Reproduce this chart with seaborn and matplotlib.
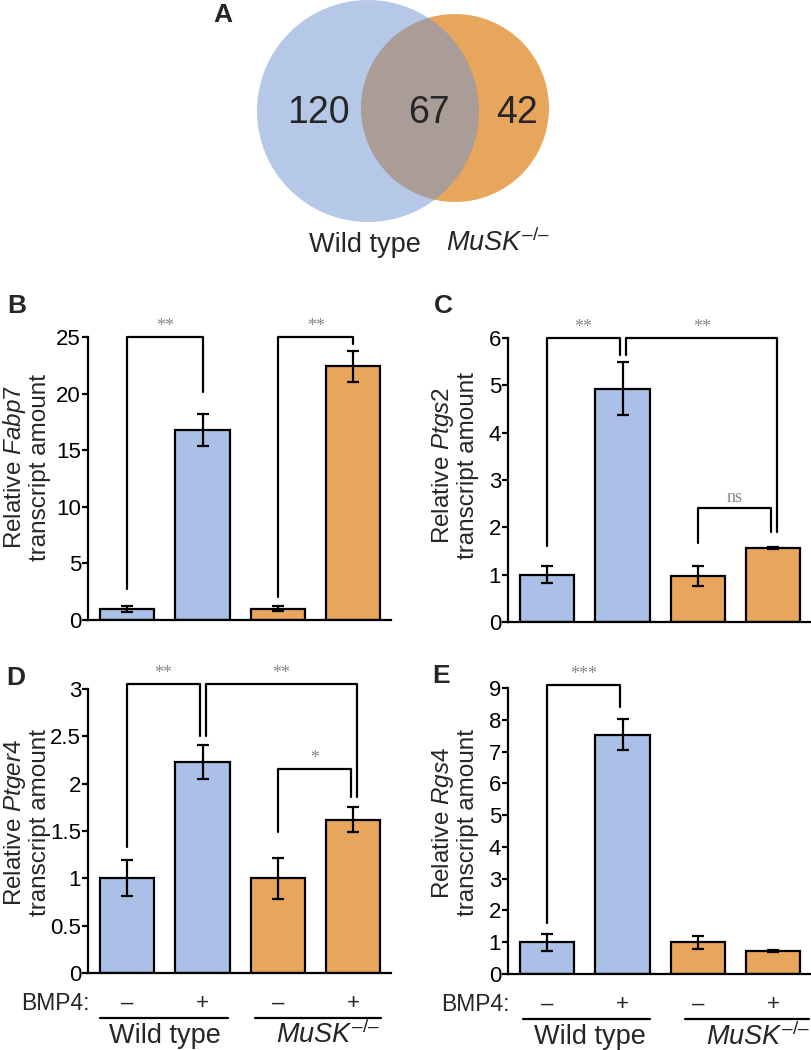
import numpy as np
import pandas as pd
import seaborn as sns
import matplotlib.pyplot as plt
from matplotlib.patches import Circle

# ---- data ----
venn_counts = [120, 67, 42]          # wild type only, shared, MuSK-/- only
conds = ["WT-", "WT+", "KO-", "KO+"]
genos = ["WT", "WT", "KO", "KO"]
bmp4 = ["\u2013", "+", "\u2013", "+"]

fabp7 = [1.0, 16.8, 1.0, 22.4]
fabp7_err = [0.25, 1.4, 0.2, 1.4]
ptgs2 = [1.0, 4.93, 0.98, 1.57]
ptgs2_err = [0.18, 0.56, 0.21, 0.02]
ptger4 = [1.0, 2.23, 1.0, 1.62]
ptger4_err = [0.19, 0.18, 0.22, 0.13]
rgs4 = [1.0, 7.53, 1.0, 0.72]
rgs4_err = [0.27, 0.48, 0.21, 0.02]

# brackets: x1, x2, top, left leg end, right leg end, label
fabp7_sig = [(0, 1, 25, 2.7, 20.1, "**"), (2, 3, 25, 2.0, 24.4, "**")]
ptgs2_sig = [(0, 0.96, 6, 1.6, 5.65, "**"), (1.05, 3.05, 6, 5.65, 1.9, "**"),
             (2, 2.97, 2.4, 1.67, 1.9, "ns")]
ptger4_sig = [(0, 0.96, 3.05, 1.33, 2.5, "**"), (1.04, 3.05, 3.05, 2.5, 1.86, "**"),
              (2, 2.97, 2.15, 1.49, 1.86, "*")]
rgs4_sig = [(0, 0.97, 9.1, 1.6, 8.4, "***")]

blue = "#aac0e6"
orange = "#e8a65d"
pal = {"WT": blue, "KO": orange}

sns.set_style("white")
plt.rcParams["font.family"] = ["Liberation Sans", "DejaVu Sans"]
plt.rcParams["mathtext.fontset"] = "custom"
plt.rcParams["mathtext.rm"] = "Liberation Sans"
plt.rcParams["mathtext.it"] = "Liberation Sans:italic"

fig = plt.figure(figsize=(8.12, 10.5), dpi=100)
W, H = 812, 1050

MUSK = "$\\mathit{MuSK}^{\\mathit{\u2013/\u2013}}$"

# ---- panel A: venn ----
ax_v = fig.add_axes([0, 1 - 300 / H, 1, 300 / H])
ax_v.set_xlim(0, W)
ax_v.set_ylim(300, 0)
ax_v.axis("off")
ax_v.add_patch(Circle((455, 108), 94, color="#e8a65c", lw=0))
ax_v.add_patch(Circle((368, 111), 111, color="#6d93d3", alpha=0.5, lw=0))
for xpos, n in zip([318, 429, 517], venn_counts):
    ax_v.text(xpos, 113, str(n), fontsize=27, ha="center", va="center")
ax_v.text(365, 245, "Wild type", fontsize=19.5, ha="center", va="center")
ax_v.text(498, 243, MUSK, fontsize=19.5, ha="center", va="center")
fig.text(223 / W, 1 - 15 / H, "A", fontsize=19, weight="bold", ha="center", va="center")


def bar_panel(rect, vals, errs, ylim, yticks, ticklabels, gene, sigs, letter, letter_xy,
              label_xy, bottom=None):
    ax = fig.add_axes(rect)
    df = pd.DataFrame({"cond": conds, "geno": genos, "val": vals})
    sns.barplot(data=df, x="cond", y="val", hue="geno", palette=pal, dodge=False,
                width=0.72, edgecolor="black", linewidth=1.6, errorbar=None,
                saturation=1, legend=False, ax=ax)
    ax.errorbar(range(4), vals, yerr=errs, fmt="none", ecolor="black",
                elinewidth=1.6, capsize=4, capthick=1.6, zorder=5)
    ax.set_xlim(-0.52, 3.5)
    ax.set_ylim(*ylim)
    ax.set_yticks(yticks)
    ax.set_yticklabels(ticklabels, fontsize=16)
    ax.set_xticks([])
    ax.set_xlabel("")
    ax.set_ylabel("Relative $\\mathit{" + gene + "}$\ntranscript amount", fontsize=17.5,
                  linespacing=1.05)
    ax.yaxis.set_label_coords(*label_xy)
    sns.despine(ax=ax)
    for s in ["left", "bottom"]:
        ax.spines[s].set_linewidth(1.6)
        ax.spines[s].set_color("black")
    ax.tick_params(axis="y", direction="out", length=4, width=1.6, pad=1, left=True, colors="black")
    for x1, x2, top, h1, h2, lab in sigs:
        ax.plot([x1, x1, x2, x2], [h1, top, top, h2], color="black", lw=1.6, clip_on=False)
        ax.annotate(lab, xy=((x1 + x2) / 2, top), xytext=(0, 1.5), textcoords="offset points",
                    ha="center", va="bottom", fontsize=13, color="#888888",
                    family=["Liberation Serif", "DejaVu Serif"], annotation_clip=False)
    fig.text(letter_xy[0] / W, 1 - letter_xy[1] / H, letter, fontsize=19, weight="bold",
             ha="center", va="center")
    if bottom is not None:
        spans, wt_x, ko_x = bottom
        tr = ax.get_xaxis_transform()
        ax.text(-0.5, -0.106, "BMP4:", transform=tr, ha="right", va="center", fontsize=16.5)
        for i, s in enumerate(bmp4):
            ax.text(i, -0.106, s, transform=tr, ha="center", va="center", fontsize=16)
        for (a, b) in spans:
            ax.plot([a, b], [-0.158, -0.158], transform=tr, color="black", lw=1.6, clip_on=False)
        ax.text(wt_x, -0.222, "Wild type", transform=tr, ha="center", va="center", fontsize=19.5)
        ax.text(ko_x, -0.218, MUSK, transform=tr, ha="center", va="center", fontsize=19.5)
    return ax


aw = 303 / W
bar_panel([88 / W, 1 - 620 / H, aw, 283 / H], fabp7, fabp7_err, (0, 25),
          [0, 5, 10, 15, 20, 25], ["0", "5", "10", "15", "20", "25"], "Fabp7",
          fabp7_sig, "B", (17, 306), (-0.122, 0.54))
bar_panel([508 / W, 1 - 622 / H, aw, 284 / H], ptgs2, ptgs2_err, (0, 6),
          [0, 1, 2, 3, 4, 5, 6], ["0", "1", "2", "3", "4", "5", "6"], "Ptgs2",
          ptgs2_sig, "C", (443, 306), (-0.096, 0.55))
bar_panel([88 / W, 1 - 973 / H, aw, 284 / H], ptger4, ptger4_err, (0, 3),
          [0, 0.5, 1, 1.5, 2, 2.5, 3], ["0", "0.5", "1", "1.5", "2", "2.5", "3"], "Ptger4",
          ptger4_sig, "D", (16, 678), (-0.122, 0.53),
          bottom=([(-0.36, 1.34), (1.69, 3.37)], 0.5, 2.66))
bar_panel([508 / W, 1 - 974 / H, aw, 286 / H], rgs4, rgs4_err, (0, 9),
          list(range(10)), [str(i) for i in range(10)], "Rgs4",
          rgs4_sig, "E", (441, 676), (-0.096, 0.53),
          bottom=([(-0.32, 1.37), (1.83, 3.47)], 0.57, 2.8))

fig.savefig("out.png", dpi=100)
